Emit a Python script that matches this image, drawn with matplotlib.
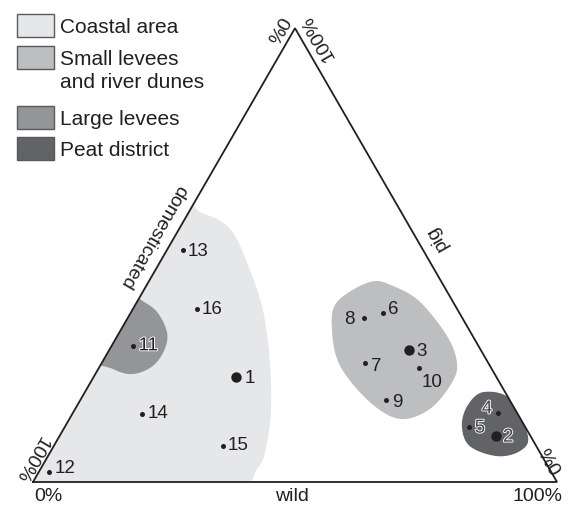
import numpy as np
import matplotlib.pyplot as plt
from matplotlib.patches import Polygon, Rectangle
import matplotlib.patheffects as pe

plt.rcParams['font.family'] = ['Liberation Sans', 'DejaVu Sans']

# bone fragments per site, % wild and % pig (the rest is domesticated)
sample_ids = [1, 2, 3, 4, 5, 6, 7, 8, 9, 10, 11, 12, 13, 14, 15, 16]
wild = [27.1, 83.3, 57.2, 81.1, 77.2, 48.2, 50.2, 45.2, 58.3, 61.2, 4.1, 2.0, 3.1, 13.3, 32.2, 12.2]
pig = [23.1, 10.1, 29.1, 15.1, 12.1, 37.2, 26.2, 36.1, 18.1, 25.1, 30.0, 2.1, 51.1, 15.0, 8.0, 38.1]
large_samples = [1, 2, 3]

# landscape zones, outlines as (wild %, pig %)
coastal_wild = [-6, 2.1, 9.7, 17.9, 25.2, 32.0, 37.7, 41.0, 41.3, 39.5, 20, -15, -20]
coastal_pig = [62, 59.5, 55.8, 46.9, 37.5, 26.4, 15.4, 6.6, 2.9, -3, -12, -8, 30]
small_wild = [42.3, 38.2, 40.2, 45.8, 55.5, 63.1, 67.7, 69.0, 67.7, 62.9, 54.0, 47.1]
small_pig = [44.1, 39.7, 33.7, 25.6, 17.6, 13.9, 16.1, 22.0, 26.4, 32.2, 39.7, 43.2]
large_wild = [-6, 0.3, 4.9, 9.0, 10.5, 10.1, 7.2, 2.8, -5]
large_pig = [44, 40.3, 37.5, 33.1, 29.3, 25.6, 23.8, 24.9, 29]
peat_wild = [76.0, 81.9, 89.4, 89.5, 85.7, 79.4, 75.7, 74.5]
peat_pig = [19.8, 18.3, 10.1, 6.8, 5.7, 7.9, 12.3, 16.8]

zone_names = ["Coastal area", "Small levees\nand river dunes", "Large levees", "Peat district"]
zone_colors = ["#e6e7e8", "#bcbec0", "#939598", "#626366"]

# triangle corners in pixels: bottom-left, bottom-right, top
X0, Y0, SIDE = 33.0, 483.0, 524.0
H = SIDE * np.sqrt(3) / 2


def to_xy(w, p):
    w = np.asarray(w, float) / 100
    p = np.asarray(p, float) / 100
    return X0 + SIDE * (w + p / 2), Y0 - H * p


def smooth_closed(x, y, n=24):
    pts = np.column_stack([x, y])
    N = len(pts)
    t = np.linspace(0, 1, n, endpoint=False)[:, None]
    out = []
    for i in range(N):
        p0, p1, p2, p3 = pts[(i - 1) % N], pts[i], pts[(i + 1) % N], pts[(i + 2) % N]
        out.append(0.5 * (2 * p1 + (-p0 + p2) * t + (2 * p0 - 5 * p1 + 4 * p2 - p3) * t ** 2
                          + (-p0 + 3 * p1 - 3 * p2 + p3) * t ** 3))
    return np.vstack(out)


fig = plt.figure(figsize=(5.68, 5.06), dpi=100)
ax = fig.add_axes([0, 0, 1, 1])
ax.set_xlim(0, 568)
ax.set_ylim(506, 0)
ax.axis('off')

tx, ty = to_xy([0, 100, 0], [0, 0, 100])
tri = Polygon(np.column_stack([tx, ty]), closed=True, fill=False, edgecolor='none')
ax.add_patch(tri)

zones = [(coastal_wild, coastal_pig), (small_wild, small_pig),
         (large_wild, large_pig), (peat_wild, peat_pig)]
for (zw, zp), col in zip(zones, zone_colors):
    zx, zy = to_xy(zw, zp)
    blob = Polygon(smooth_closed(zx, zy), closed=True, facecolor=col, edgecolor='none')
    ax.add_patch(blob)
    blob.set_clip_path(tri)

ax.plot(np.append(tx, tx[0]), np.append(ty, ty[0]), color='#231f20', lw=1.3,
        solid_joinstyle='miter')

# sample points
px, py = to_xy(wild, pig)
for sid, x, y in zip(sample_ids, px, py):
    ms = 7.5 if sid in large_samples else 3.6
    ax.plot(x, y, 'o', color='#231f20', ms=ms, mec='none')

# label offsets in pixels (dx, dy, ha); dy positive = down
offsets = {1: (9, 0, 'left'), 2: (7, 1, 'left'), 3: (7.5, 1, 'left'),
           4: (-10.5, -4.5, 'center'), 5: (5.5, 1, 'left'), 6: (5, -5, 'left'),
           7: (6.5, 2.5, 'left'), 8: (-10, 0.5, 'right'), 9: (6, 2, 'left'),
           10: (13, 13, 'center'), 11: (5.5, 0, 'left'), 12: (5.5, -5, 'left'),
           13: (4.5, 0, 'left'), 14: (6, -1, 'left'), 15: (5, -1.5, 'left'),
           16: (4.5, -1, 'left')}
halo = [pe.withStroke(linewidth=1.3, foreground='white')]
for sid, x, y in zip(sample_ids, px, py):
    dx, dy, ha = offsets[sid]
    kw = {}
    color = '#231f20'
    if sid in (2, 4, 5, 11):
        kw['path_effects'] = halo
        color = '#454547' if sid != 11 else '#231f20'
    ax.annotate(str(sid), (x, y), xytext=(dx * 0.72, -dy * 0.72), textcoords='offset points',
                ha=ha, va='center', fontsize=13.5, color=color, **kw)

# axis texts
tk = dict(fontsize=14, color='#231f20', ha='center', va='center')
ax.text(48, 497, "0%", **tk)
ax.text(292, 497, "wild", **tk)
ax.text(537, 497, "100%", **tk)
ax.text(276, 29, "0%", rotation=-120, **tk)
ax.text(318, 38, "100%", rotation=120, **tk)
ax.text(31, 459, "100%", rotation=-120, **tk)
ax.text(552, 459, "0%", rotation=120, **tk)
ax.text(153, 237, "domesticated", rotation=-120, **tk)
ax.text(437, 238, "pig", rotation=120, **tk)

# legend
box_tops = [15, 47, 107, 138]
text_y = [27, 71, 119, 150]
for name, col, top, yt in zip(zone_names, zone_colors, box_tops, text_y):
    ax.add_patch(Rectangle((17, top), 37, 23, facecolor=col, edgecolor='#58595b', lw=1))
    ax.text(60, yt, name, fontsize=15, color='#231f20', ha='left', va='center',
            linespacing=1.25)

fig.savefig("out.png", dpi=100)
